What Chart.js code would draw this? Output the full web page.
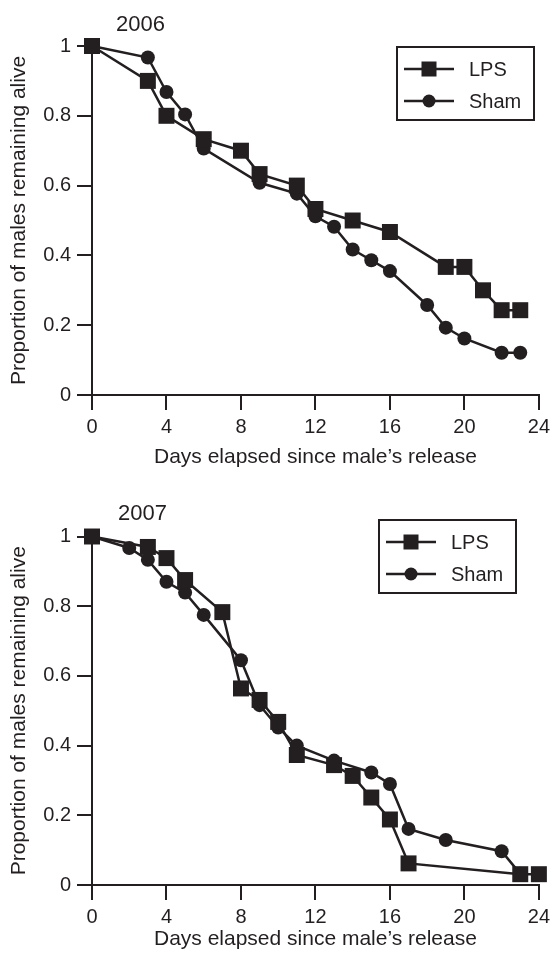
<!DOCTYPE html>
<html>
<head>
<meta charset="utf-8">
<script src="https://cdn.jsdelivr.net/npm/chart.js@4.4.1/dist/chart.umd.min.js"></script>
<style>
  html, body { margin: 0; padding: 0; background: #fff; }
  #wrap { position: relative; width: 555px; height: 957px; overflow: hidden; }
  #wrap canvas { position: absolute; left: 0; }
</style>
</head>
<body>
<div id="wrap">
  <canvas id="chart2006" width="555" height="480" style="top:0"></canvas>
  <canvas id="chart2007" width="555" height="477" style="top:480px"></canvas>
</div>
<script>
// ---- data ----
const seriesNames = ["LPS", "Sham"];

const lpsDays2006 = [0, 3, 4, 6, 8, 9, 11, 12, 14, 16, 19, 20, 21, 22, 23];
const lpsAlive2006 = [1, 0.9, 0.8, 0.733, 0.7, 0.633, 0.6, 0.533, 0.5, 0.467, 0.367, 0.367, 0.3, 0.243, 0.243];
const shamDays2006 = [0, 3, 4, 5, 6, 9, 11, 12, 13, 14, 15, 16, 18, 19, 20, 22, 23];
const shamAlive2006 = [1, 0.967, 0.868, 0.804, 0.706, 0.608, 0.577, 0.512, 0.482, 0.417, 0.386, 0.355, 0.258, 0.193, 0.162, 0.121, 0.121];

const lpsDays2007 = [0, 3, 4, 5, 7, 8, 9, 10, 11, 13, 14, 15, 16, 17, 23, 24];
const lpsAlive2007 = [1, 0.97, 0.938, 0.875, 0.783, 0.564, 0.531, 0.468, 0.373, 0.344, 0.313, 0.251, 0.188, 0.062, 0.031, 0.031];
const shamDays2007 = [0, 2, 3, 4, 5, 6, 8, 9, 10, 11, 13, 15, 16, 17, 19, 22, 23];
const shamAlive2007 = [1, 0.967, 0.933, 0.87, 0.839, 0.775, 0.645, 0.516, 0.452, 0.4, 0.357, 0.323, 0.29, 0.161, 0.129, 0.097, 0.032];

const xTicks = [0, 4, 8, 12, 16, 20, 24];
const yTicks = [0, 0.2, 0.4, 0.6, 0.8, 1];
const yTickLabels = ["0", "0.2", "0.4", "0.6", "0.8", "1"];

const ink = "#231f20";
const fontFamily = "'Liberation Sans', Arial, Helvetica, sans-serif";

Chart.defaults.font.family = fontFamily;
Chart.defaults.color = ink;

// year label + boxed legend with line-through markers
const panelDecor = {
  id: "panelDecor",
  afterDraw(chart, args, opts) {
    const ctx = chart.ctx;
    ctx.save();
    ctx.fillStyle = ink;
    ctx.strokeStyle = ink;
    ctx.font = "22px " + fontFamily;
    ctx.textAlign = "left";
    ctx.textBaseline = "alphabetic";
    ctx.fillText(opts.year, opts.yearX, opts.yearY);

    const bx = opts.legendX, by = opts.legendY;
    ctx.font = "20px " + fontFamily;
    ctx.lineWidth = 2;
    ctx.strokeRect(bx, by, 137, 73);
    seriesNames.forEach((name, i) => {
      const cy = by + 22 + i * 32;
      ctx.lineWidth = 2.5;
      ctx.beginPath();
      ctx.moveTo(bx + 7, cy);
      ctx.lineTo(bx + 57, cy);
      ctx.stroke();
      if (i === 0) {
        ctx.fillRect(bx + 32 - 7.5, cy - 7.5, 15, 15);
      } else {
        ctx.beginPath();
        ctx.arc(bx + 32, cy, 6.5, 0, Math.PI * 2);
        ctx.fill();
      }
      ctx.textBaseline = "middle";
      ctx.fillText(name, bx + 72, cy + 1);
    });
    ctx.restore();
  }
};

function toPoints(days, vals) {
  return days.map((d, i) => ({ x: d, y: vals[i] }));
}

function buildChart(id, lpsDays, lpsVals, shamDays, shamVals, decor, padTop, padBottom, xAxisHeight) {
  const axisGrid = {
    display: true,
    drawOnChartArea: false,
    drawTicks: true,
    tickLength: 15,
    color: ink,
    lineWidth: 2
  };
  return new Chart(document.getElementById(id).getContext("2d"), {
    type: "line",
    data: {
      datasets: [
        {
          label: seriesNames[0],
          data: toPoints(lpsDays, lpsVals),
          borderColor: ink,
          backgroundColor: ink,
          borderWidth: 2.5,
          pointStyle: "rect",
          pointRadius: 11.3,
          pointBorderWidth: 0,
          tension: 0,
          clip: false
        },
        {
          label: seriesNames[1],
          data: toPoints(shamDays, shamVals),
          borderColor: ink,
          backgroundColor: ink,
          borderWidth: 2.5,
          pointStyle: "circle",
          pointRadius: 7,
          pointBorderWidth: 0,
          tension: 0,
          clip: false
        }
      ]
    },
    options: {
      responsive: false,
      animation: false,
      events: [],
      layout: { padding: { top: padTop, right: 16, bottom: padBottom, left: 0 } },
      plugins: {
        legend: { display: false },
        tooltip: { enabled: false },
        panelDecor: decor
      },
      scales: {
        x: {
          type: "linear",
          min: 0,
          max: 24,
          afterBuildTicks: s => { s.ticks = xTicks.map(v => ({ value: v })); },
          afterFit: s => { s.height = xAxisHeight; },
          grid: axisGrid,
          border: { display: true, color: ink, width: 2 },
          ticks: { font: { size: 20 }, padding: 5, maxRotation: 0 },
          title: {
            display: true,
            text: "Days elapsed since male\u2019s release",
            font: { size: 21 },
            padding: { top: 0, bottom: 0 }
          }
        },
        y: {
          type: "linear",
          min: 0,
          max: 1,
          afterBuildTicks: s => { s.ticks = yTicks.map(v => ({ value: v })); },
          afterFit: s => { s.width = 92; },
          grid: axisGrid,
          border: { display: true, color: ink, width: 2 },
          ticks: {
            font: { size: 20 },
            padding: 6,
            callback: v => yTickLabels[yTicks.indexOf(v)]
          },
          title: {
            display: true,
            text: "Proportion of males remaining alive",
            font: { size: 21 },
            padding: { top: 7, bottom: 0 }
          }
        }
      }
    },
    plugins: [panelDecor]
  });
}

buildChart("chart2006", lpsDays2006, lpsAlive2006, shamDays2006, shamAlive2006,
  { year: "2006", yearX: 116, yearY: 31, legendX: 397, legendY: 47 }, 46, 10, 75);

buildChart("chart2007", lpsDays2007, lpsAlive2007, shamDays2007, shamAlive2007,
  { year: "2007", yearX: 118, yearY: 40, legendX: 379, legendY: 40 }, 56.5, 5, 67);
</script>
</body>
</html>
